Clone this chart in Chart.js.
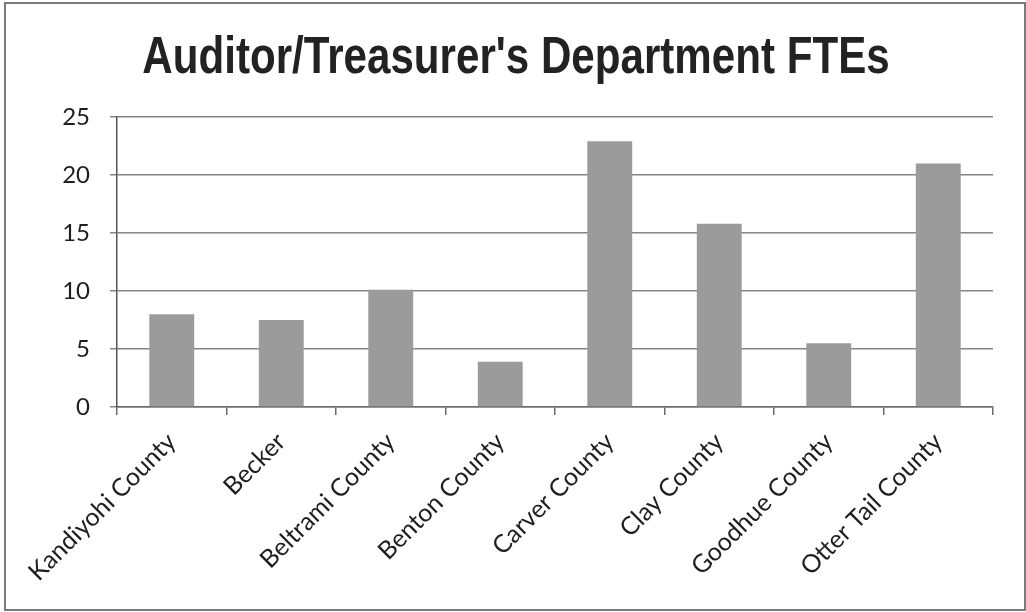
<!DOCTYPE html>
<html>
<head>
<meta charset="utf-8">
<script src="https://cdn.jsdelivr.net/npm/chart.js@4.4.1/dist/chart.umd.min.js"></script>
<style>
  html, body { margin: 0; padding: 0; background: #fff; }
  #wrap { position: relative; width: 1026px; height: 612px; }
</style>
</head>
<body>
<div id="wrap"><canvas id="c" width="1026" height="612"></canvas></div>
<script>
const counties = ['Kandiyohi County', 'Becker', 'Beltrami County', 'Benton County',
                  'Carver County', 'Clay County', 'Goodhue County', 'Otter Tail County'];
const ftes = [8, 7.5, 10.1, 3.9, 22.9, 15.8, 5.5, 21];
const yTicks = [0, 5, 10, 15, 20, 25];
const titleText = "Auditor/Treasurer's Department FTEs";

// Thin grey frame around the whole chart
const framePlugin = {
  id: 'frame',
  beforeDraw(chart) {
    const ctx = chart.ctx;
    ctx.save();
    ctx.fillStyle = '#fff';
    ctx.fillRect(0, 0, chart.width, chart.height);
    ctx.strokeStyle = '#7a7a7a';
    ctx.lineWidth = 2;
    ctx.strokeRect(5, 3, chart.width - 6, chart.height - 5);
    ctx.restore();
  }
};

// Condensed bold title, centred over the chart
const condensedTitle = {
  id: 'condensedTitle',
  afterDraw(chart) {
    const ctx = chart.ctx;
    ctx.save();
    ctx.font = "bold 52px 'Liberation Sans', Arial, sans-serif";
    ctx.fillStyle = '#222';
    ctx.textAlign = 'center';
    ctx.textBaseline = 'alphabetic';
    const sx = 0.81;
    ctx.translate(516, 73);
    ctx.scale(sx, 1);
    ctx.fillText(titleText, 0, 0);
    ctx.restore();
  }
};

new Chart(document.getElementById('c'), {
  type: 'bar',
  data: {
    labels: counties,
    datasets: [{
      data: ftes,
      backgroundColor: '#9b9b9b',
      borderWidth: 0,
      barPercentage: 1,
      categoryPercentage: 0.41
    }]
  },
  options: {
    responsive: false,
    animation: false,
    layout: { padding: { left: 0, right: 33, top: 117, bottom: 0 } },
    plugins: {
      legend: { display: false },
      tooltip: { enabled: false },
      title: { display: false }
    },
    scales: {
      x: {
        grid: {
          offset: true,
          drawOnChartArea: false,
          drawTicks: true,
          tickLength: 8,
          color: '#6a6a6a',
          lineWidth: 1.5
        },
        border: { display: true, color: '#6a6a6a', width: 1.5 },
        ticks: {
          color: '#1e1e1e',
          font: { family: 'Lato, Calibri, sans-serif', size: 25 },
          minRotation: 45,
          maxRotation: 45,
          autoSkip: false,
          padding: 12
        },
        afterFit(scale) { scale.height = 205; }
      },
      y: {
        min: 0,
        max: 25,
        afterBuildTicks(scale) { scale.ticks = yTicks.map(v => ({ value: v })); },
        grid: {
          color: '#858585',
          lineWidth: 1.5,
          drawTicks: true,
          tickLength: 7
        },
        border: { display: true, color: '#555', width: 1.5 },
        ticks: {
          color: '#1e1e1e',
          font: { family: 'Lato, Calibri, sans-serif', size: 24 },
          padding: 20
        },
        afterFit(scale) { scale.width = 117; }
      }
    }
  },
  plugins: [framePlugin, condensedTitle]
});
</script>
</body>
</html>
